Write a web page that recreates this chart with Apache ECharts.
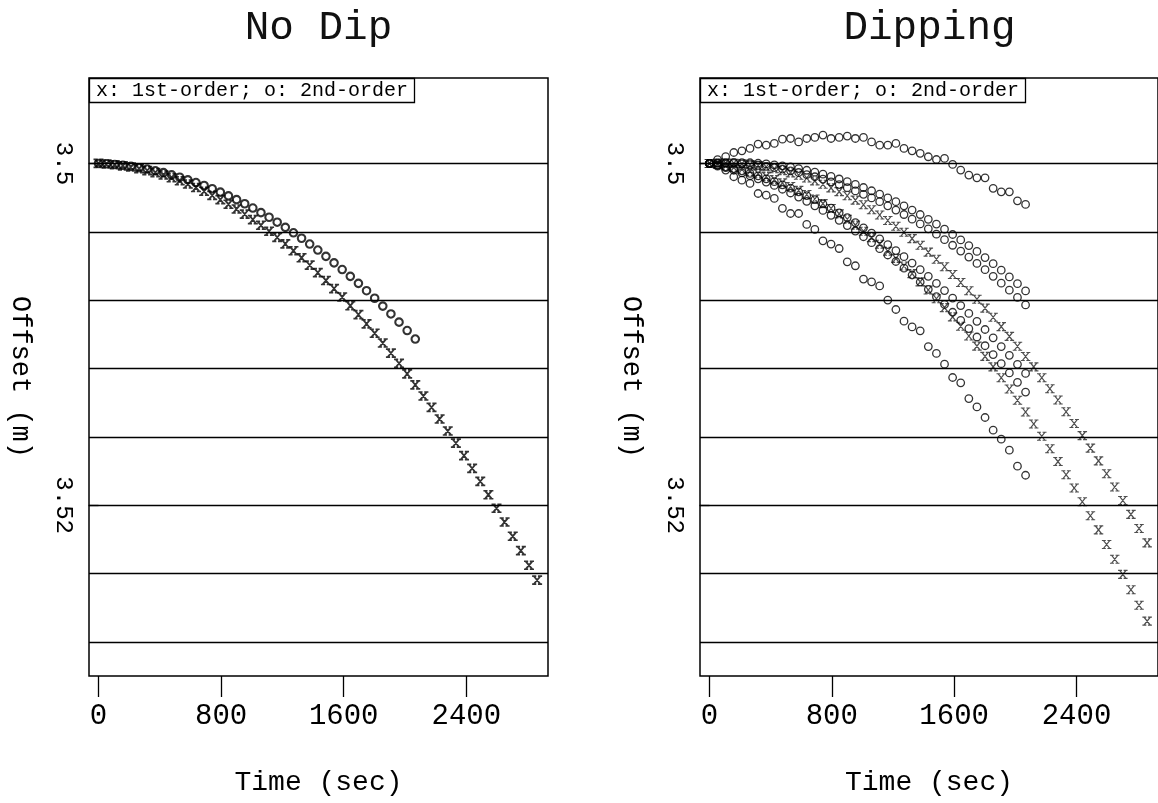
<!DOCTYPE html>
<html><head><meta charset="utf-8">
<script src="https://cdn.jsdelivr.net/npm/echarts@6/dist/echarts.min.js"></script>
<style>html,body{margin:0;padding:0;background:#fff}#c{width:1158px;height:803px}</style>
</head><body><div id="c"></div>
<script>
const TIME = [0,53,106,159,212,265,318,371,424,477,530,583,636,689,742,795,848,901,954,1007,1060,1113,1166,1219,1272,1325,1378,1431,1484,1537,1590,1643,1696,1749,1802,1855,1908,1961,2014,2067,2120,2173,2226,2279,2332,2385,2438,2491,2544,2597,2650,2703,2756,2809,2862];

const NODIP_FIRST = [3.5,3.50003,3.50008,3.50014,3.50021,3.50031,3.50042,3.50054,3.50068,3.50084,3.50101,3.50120,3.50141,3.50163,3.50187,3.50212,3.50239,3.50267,3.50297,3.50329,3.50362,3.50397,3.50433,3.50471,3.50511,3.50552,3.50595,3.50639,3.50685,3.50733,3.50782,3.50833,3.50885,3.50939,3.50994,3.51051,3.51110,3.51170,3.51232,3.51296,3.51361,3.51428,3.51496,3.51566,3.51637,3.51710,3.51785,3.51861,3.51939,3.52018,3.52099,3.52182,3.52266,3.52352,3.52439];
const NODIP_SECOND = [3.5,3.50002,3.50006,3.50011,3.50017,3.50025,3.50033,3.50043,3.50054,3.50067,3.50081,3.50096,3.50112,3.50129,3.50148,3.50168,3.50190,3.50212,3.50236,3.50261,3.50288,3.50315,3.50344,3.50374,3.50406,3.50438,3.50472,3.50507,3.50544,3.50582,3.50621,3.50661,3.50702,3.50745,3.50789,3.50835,3.50881,3.50929,3.50978,3.51028];

const DIP_FIRST_A = [3.5,3.49998,3.49998,3.49999,3.50002,3.50007,3.50013,3.50021,3.50031,3.50042,3.50055,3.50069,3.50085,3.50102,3.50122,3.50143,3.50165,3.50189,3.50215,3.50242,3.50271,3.50302,3.50334,3.50368,3.50403,3.50440,3.50479,3.50519,3.50561,3.50605,3.50650,3.50697,3.50745,3.50795,3.50847,3.50900,3.50955,3.51012,3.51070,3.51130,3.51191,3.51254,3.51319,3.51385,3.51453,3.51522,3.51593,3.51666,3.51741,3.51816,3.51894,3.51973,3.52054,3.52137,3.52221];
const DIP_FIRST_B = [3.5,3.50006,3.50014,3.50023,3.50034,3.50047,3.50061,3.50077,3.50095,3.50114,3.50135,3.50158,3.50182,3.50208,3.50235,3.50264,3.50295,3.50327,3.50361,3.50397,3.50434,3.50473,3.50514,3.50556,3.50600,3.50645,3.50693,3.50741,3.50792,3.50844,3.50898,3.50953,3.51010,3.51069,3.51129,3.51191,3.51254,3.51320,3.51386,3.51455,3.51525,3.51597,3.51670,3.51745,3.51822,3.51900,3.51980,3.52062,3.52145,3.52230,3.52317,3.52405,3.52495,3.52586,3.52679];

const DIP_SECOND_1 = [3.5,3.49978,3.49960,3.49936,3.49926,3.49912,3.49887,3.49893,3.49883,3.49858,3.49854,3.49874,3.49854,3.49848,3.49834,3.49854,3.49848,3.49840,3.49854,3.49848,3.49874,3.49893,3.49893,3.49883,3.49912,3.49926,3.49941,3.49961,3.49977,3.49971,3.50006,3.50039,3.50068,3.50084,3.50084,3.50146,3.50166,3.50166,3.50219,3.50240];
const DIP_SECOND_2 = [3.5,3.49997,3.49995,3.49994,3.49995,3.49996,3.49999,3.50003,3.50008,3.50014,3.50021,3.50030,3.50040,3.50051,3.50063,3.50076,3.50091,3.50106,3.50123,3.50141,3.50160,3.50180,3.50202,3.50224,3.50248,3.50273,3.50299,3.50327,3.50355,3.50385,3.50416,3.50448,3.50481,3.50515,3.50551,3.50587,3.50625,3.50664,3.50704,3.50746];
const DIP_SECOND_3 = [3.5,3.49999,3.49999,3.50000,3.50003,3.50007,3.50011,3.50017,3.50025,3.50033,3.50043,3.50053,3.50065,3.50078,3.50092,3.50108,3.50124,3.50142,3.50161,3.50181,3.50202,3.50224,3.50248,3.50273,3.50299,3.50326,3.50354,3.50383,3.50414,3.50446,3.50479,3.50513,3.50548,3.50585,3.50622,3.50661,3.50701,3.50742,3.50784,3.50828];
const DIP_SECOND_4 = [3.5,3.50009,3.50020,3.50031,3.50044,3.50058,3.50073,3.50090,3.50107,3.50126,3.50145,3.50166,3.50189,3.50212,3.50236,3.50262,3.50289,3.50317,3.50346,3.50377,3.50408,3.50441,3.50475,3.50510,3.50546,3.50583,3.50622,3.50661,3.50702,3.50744,3.50788,3.50832,3.50878,3.50924,3.50972,3.51021,3.51072,3.51123,3.51176,3.51229];
const DIP_SECOND_5 = [3.5,3.50012,3.50025,3.50040,3.50055,3.50072,3.50090,3.50109,3.50129,3.50151,3.50173,3.50197,3.50222,3.50248,3.50275,3.50304,3.50333,3.50364,3.50396,3.50429,3.50464,3.50499,3.50536,3.50574,3.50613,3.50653,3.50694,3.50737,3.50780,3.50825,3.50871,3.50918,3.50967,3.51016,3.51067,3.51119,3.51172,3.51226,3.51281,3.51338];
const DIP_SECOND_6 = [3.5,3.50016,3.50039,3.50078,3.50098,3.50117,3.50176,3.50186,3.50205,3.50263,3.50293,3.50293,3.50357,3.50386,3.50453,3.50472,3.50498,3.50576,3.50599,3.50677,3.50693,3.50717,3.50800,3.50855,3.50923,3.50957,3.50980,3.51072,3.51112,3.51175,3.51253,3.51284,3.51376,3.51425,3.51487,3.51561,3.51614,3.51678,3.51772,3.51825];

const GRID_VALUES = [3.5,3.504,3.508,3.512,3.516,3.52,3.524,3.528];
const X_TICKS = [0,800,1600,2400];
const Y_TICKS = [3.5,3.52];
const PANEL_TITLES = ['No Dip','Dipping'];
const LEGEND_TEXT = 'x: 1st-order; o: 2nd-order';
const X_NAME = 'Time (sec)';
const Y_NAME = 'Offset (m)';

const FONT = 'Liberation Mono';
const X_MARK = 'path://M1,0L9,10M9,0L1,10M-1,0L4,0M6,0L11,0M-1,10L4,10M6,10L11,10';
const PANEL_LEFT = [89, 700];
const PANEL_TOP = 78, PANEL_W = 459, PANEL_H = 598;

function pts(arr){ return arr.map((v,i)=>[TIME[i], v]); }

const chart = echarts.init(document.getElementById('c'));
const grids = [], xAxes = [], yAxes = [], series = [], titles = [];
for (let p = 0; p < 2; p++) {
  grids.push({left:PANEL_LEFT[p], top:PANEL_TOP, width:PANEL_W, height:PANEL_H, show:true,
    borderColor:'#000', borderWidth:1.5, backgroundColor:'rgba(0,0,0,0)'});
  xAxes.push({gridIndex:p, type:'value', min:-62, max:2933,
    axisLine:{show:false},
    axisTick:{show:true, customValues:X_TICKS, length:21, lineStyle:{color:'#000', width:1.3}},
    axisLabel:{show:true, customValues:X_TICKS, margin:26, color:'#000', fontFamily:FONT, fontSize:29,
      formatter:(v)=>String(Math.round(v))},
    splitLine:{show:false},
    name:X_NAME, nameLocation:'middle', nameGap:93,
    nameTextStyle:{color:'#000', fontFamily:FONT, fontSize:28}});
  yAxes.push({gridIndex:p, type:'value', inverse:true, min:3.495, max:3.53,
    axisLine:{show:false},
    axisTick:{show:true, customValues:Y_TICKS, length:10, lineStyle:{color:'#000', width:1.3}},
    axisLabel:{show:true, customValues:Y_TICKS, rotate:-90, margin:14, color:'#000', fontFamily:FONT, fontSize:24,
      formatter:(v)=>String(Math.round(v*1000)/1000)},
    splitLine:{show:false},
    name:Y_NAME, nameLocation:'middle', nameRotate:-90, nameGap:55,
    nameTextStyle:{color:'#000', fontFamily:FONT, fontSize:27}});
  const w = PANEL_TITLES[p].length * 0.6 * 41;
  titles.push({text:PANEL_TITLES[p], left:PANEL_LEFT[p] + PANEL_W/2 - w/2, top:8, padding:0,
    textStyle:{fontFamily:FONT, fontSize:41, fontWeight:'normal', color:'#111'}});
  titles.push({text:LEGEND_TEXT, left:PANEL_LEFT[p], top:PANEL_TOP, padding:[3,7,2,7],
    borderColor:'#000', borderWidth:1.3, backgroundColor:'#fff',
    textStyle:{fontFamily:FONT, fontSize:20, fontWeight:'normal', color:'#000'}});
}

function xSeries(p, arr, bold) {
  return {type:'scatter', xAxisIndex:p, yAxisIndex:p, data:pts(arr), symbol:X_MARK, symbolSize:bold ? [10,8] : [9.5,8],
    symbolKeepAspect:false, silent:true, z:3,
    itemStyle:{color:'rgba(0,0,0,0)', borderColor:bold ? '#000' : '#222', borderWidth:bold ? 1.8 : 1.2}};
}
function oSeries(p, arr, bold) {
  return {type:'scatter', xAxisIndex:p, yAxisIndex:p, data:pts(arr), symbol:'circle', symbolSize:bold ? 7.5 : 7.5,
    silent:true, z:3,
    itemStyle:{color:'rgba(0,0,0,0)', borderColor:'#000', borderWidth:bold ? 2.1 : 1.3}};
}
function gridLineSeries(p) {
  return {type:'scatter', xAxisIndex:p, yAxisIndex:p, data:[], silent:true, z:1,
    markLine:{silent:true, precision:4, symbol:['none','none'], label:{show:false}, animation:false,
      lineStyle:{color:'#000', width:1.3, type:'solid'},
      emphasis:{disabled:true},
      data:GRID_VALUES.map(v=>({yAxis:v}))}};
}

series.push(gridLineSeries(0));
series.push(xSeries(0, NODIP_FIRST, true));
series.push(oSeries(0, NODIP_SECOND, true));
series.push(gridLineSeries(1));
series.push(xSeries(1, DIP_FIRST_A, false));
series.push(xSeries(1, DIP_FIRST_B, false));
[DIP_SECOND_1, DIP_SECOND_2, DIP_SECOND_3, DIP_SECOND_4, DIP_SECOND_5, DIP_SECOND_6].forEach(a=>series.push(oSeries(1, a, false)));

chart.setOption({
  animation:false,
  backgroundColor:'#fff',
  title:titles,
  grid:grids,
  xAxis:xAxes,
  yAxis:yAxes,
  series:series
});
</script></body></html>
